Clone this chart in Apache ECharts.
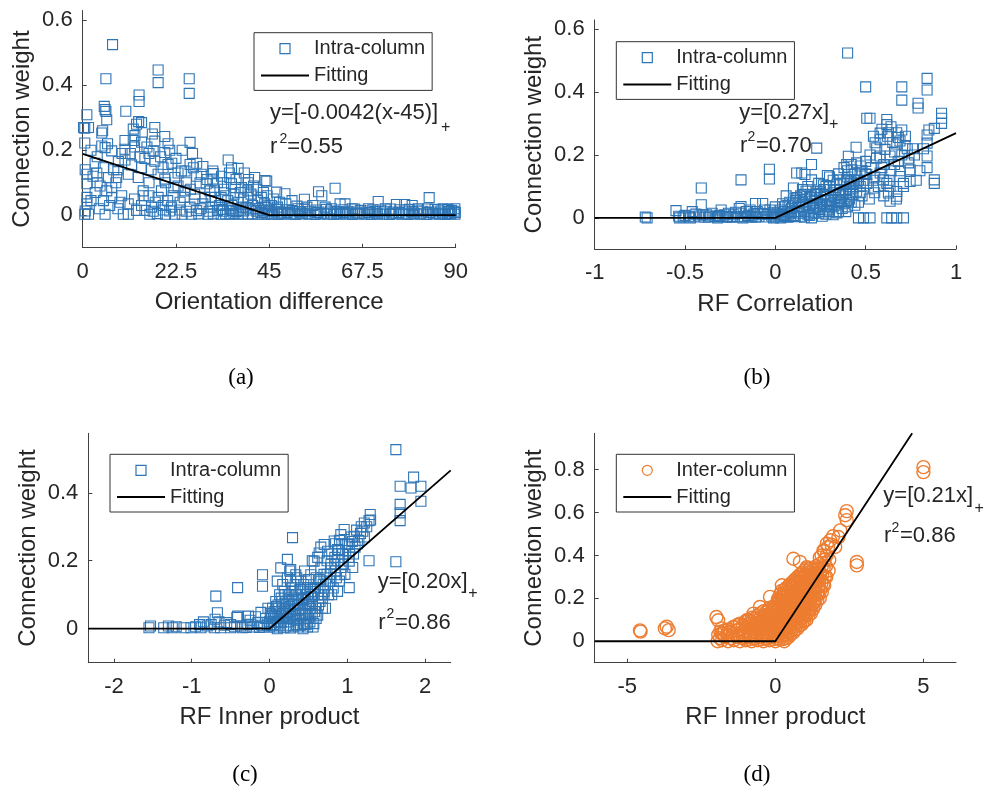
<!DOCTYPE html>
<html><head><meta charset="utf-8">
<script src="https://cdn.jsdelivr.net/npm/echarts@6/dist/echarts.min.js"></script>
<style>html,body{margin:0;padding:0;background:#fff}#c{width:985px;height:806px}</style>
</head><body><div id="c"></div>
<script>
// ---------- data ----------
const intraA = [
[7.2,0.525],[5.6,0.42],[18.2,0.447],[18.2,0.408],[25.7,0.42],[25.7,0.375],
[13.6,0.37],[13.6,0.35],[5.2,0.335],[5.6,0.319],[5.4,0.325],[1.0,0.309],[10.4,0.32],[5.8,0.294],
[0.5,0.268],[0.2,0.27],[1.4,0.27],[13.5,0.288],[14.2,0.285],[17.4,0.27],[12.2,0.265],[13.0,0.28],[4.6,0.253],[4.8,0.26],
[0.5,0.222],[10.2,0.23],[12.2,0.23],[12.6,0.245],[14.2,0.225],[17.4,0.228],[16.8,0.25],[19.8,0.242],[20.6,0.22],[25.9,0.224],
[4.6,0.213],[5.4,0.208],[7.0,0.198],[6.0,0.22],[17.0,0.198],[19.8,0.193],[10.2,0.203],[11.5,0.19],[13.8,0.18],[15.0,0.175],[16.0,0.19],
[10.2,0.17],[8.6,0.165],[17.4,0.166],[20.6,0.156],[19.4,0.146],[21.5,0.16],[25.9,0.156],[26.7,0.146],[24.7,0.136],[27.5,0.16],
[35.1,0.17],[35.9,0.146],[37.5,0.144],[35.4,0.13],[0.6,0.14],[1.0,0.126],[1.0,0.097],[3.4,0.13],[5.0,0.146],[6.2,0.116],[8.2,0.116],[2.5,0.12],
[11.0,0.126],[13.4,0.116],[14.2,0.146],[18.2,0.126],[19.8,0.111],[22.2,0.116],[23.8,0.136],[28.6,0.126],[31.4,0.136],[31.4,0.111],[29.8,0.097],[28.3,0.1],[31.5,0.128],
[4.2,0.09],[7.0,0.085],[5.8,0.075],[9.4,0.06],[7.0,0.055],[5.0,0.045],[1.0,0.055],[1.0,0.035],[3.0,0.07],[8.0,0.1],
[14.6,0.075],[14.6,0.06],[18.2,0.055],[21.8,0.06],[24.7,0.075],[23.0,0.09],[26.0,0.08],[11.0,0.035],[14.2,0.03],[16.6,0.025],[19.4,0.03],[21.4,0.025],[25.9,0.025],[20.5,0.045],[23.5,0.04],[27.0,0.05],[17.5,0.04],
[31.8,0.075],[31.0,0.055],[33.4,0.055],[35.9,0.097],[35.5,0.116],[38.3,0.085],[39.9,0.1],[39.9,0.075],[39.9,0.055],[41.5,0.116],[43.1,0.055],[43.9,0.035],[40.0,0.11],[44.0,0.107],[41.2,0.09],[43.6,0.07],[30.7,0.075],[34.0,0.08],[36.5,0.065],[37.5,0.04],[33.0,0.03],[29.0,0.035],[36.0,0.03],[38.5,0.025],[41.0,0.03],[42.5,0.02],[35.0,0.045],
[2.0,0.2],[3.5,0.18],[8.5,0.14],[9.5,0.19],[11.8,0.155],[12.5,0.21],[15.5,0.21],[16.5,0.14],[18.8,0.18],[21.0,0.2],[22.5,0.175],[23.0,0.13],[24.0,0.2],[26.5,0.19],[27.5,0.12],[29.0,0.15],[30.0,0.11],[32.5,0.1],[33.5,0.12],[34.0,0.1],[37.0,0.11],[38.0,0.07],[39.0,0.13],[42.0,0.08],[44.5,0.06],[3.0,0.16],[2.0,0.045],[4.0,0.02],[6.5,0.03],[8.5,0.02],[12.5,0.05],[13.0,0.015],[16.0,0.06],[19.0,0.075],[22.0,0.085],[25.0,0.1],[27.0,0.065],[29.5,0.055],[32.0,0.045],[34.5,0.06],[36.8,0.085],[38.8,0.05],[40.6,0.065],[42.2,0.045],[44.2,0.025],[28.5,0.02],[31.0,0.025],[33.7,0.018],[35.7,0.02],[37.7,0.015],[39.4,0.022],[41.6,0.02],[43.0,0.008],[44.8,0.016],[24.5,0.055],[20.0,0.1],[16.0,0.1],[9.0,0.04],[3.5,0.1],[7.5,0.14],
[0.5,0.003],[1.4,0.003],[5.4,0.003],[9.8,0.003],[11.0,0.003],[16.2,0.003],[22.2,0.003],[26.2,0.003],[30.2,0.003],[33.4,0.003],[35.5,0.003],[37.5,0.003],[39.9,0.003],[42.3,0.003],[43.9,0.003],[18.0,0.005],[20.0,0.003],[24.0,0.003],[28.0,0.004],[31.5,0.004],[34.5,0.004],[36.5,0.005],[38.5,0.004],[41.0,0.004],[44.5,0.004],
[0.6,0.013],[15.0,0.015],[17.0,0.012],[21.0,0.013],[25.0,0.012],[27.5,0.014],[30.5,0.012],[32.5,0.015],[34.0,0.012],[36.0,0.015],[37.0,0.011],[38.8,0.013],[40.5,0.016],[42.0,0.012],[43.5,0.015],[45.0,0.012],[23.5,0.016],[19.5,0.016],
[44.4,0.105],[46.8,0.071],[48.8,0.066],[53.5,0.049],[56.9,0.072],[57.7,0.06],[60.9,0.083],[62.1,0.035],[63.3,0.035],[71.3,0.042],[75.7,0.033],[77.7,0.033],[83.6,0.054],[51.7,0.028],[54.1,0.025],[79.5,0.03],[88.0,0.005],
[46.0,0.05],[47.5,0.04],[49.0,0.035],[50.5,0.045],[52.0,0.02],[55.5,0.03],[58.5,0.025],[60.0,0.02],[65.0,0.02],[67.0,0.015],[69.0,0.02],[73.0,0.02],[81.0,0.02],[85.0,0.018],[87.0,0.02],[89.0,0.015],[47.0,0.025],[45.5,0.03],
[45.5,0.003],[47.2,0.002],[48.6,0.004],[50.1,0.003],[51.4,0.002],[53.0,0.004],[54.6,0.003],[56.1,0.002],[57.4,0.004],[59.0,0.003],[60.6,0.002],[62.0,0.004],[63.4,0.003],[65.1,0.002],[66.5,0.004],[68.0,0.003],[69.6,0.002],[71.1,0.004],[72.4,0.003],[74.0,0.002],[75.6,0.004],[77.0,0.003],[78.5,0.002],[80.1,0.004],[81.4,0.003],[83.0,0.002],[84.6,0.004],[86.1,0.003],[87.4,0.002],[88.8,0.004],[89.8,0.003],
[46.2,0.012],[48.0,0.01],[50.6,0.013],[52.3,0.011],[55.0,0.012],[57.0,0.01],[59.8,0.013],[61.5,0.011],[64.0,0.012],[66.0,0.01],[68.8,0.013],[70.5,0.011],[73.0,0.012],[75.0,0.01],[77.8,0.013],[79.5,0.011],[82.0,0.012],[84.0,0.01],[86.5,0.013],[88.5,0.011],[89.6,0.012],
[45.8,0.007],[47.6,0.006],[49.3,0.008],[51.0,0.006],[52.7,0.007],[54.2,0.006],[56.5,0.008],[58.2,0.006],[60.0,0.007],[61.3,0.006],[63.0,0.008],[64.5,0.006],[66.2,0.007],[67.6,0.006],[69.2,0.008],[70.8,0.006],[72.7,0.007],[74.6,0.006],[76.3,0.008],[78.0,0.006],[79.8,0.007],[81.6,0.006],[83.4,0.008],[85.2,0.006],[86.8,0.007],[88.2,0.006],[89.9,0.008],
[46.8,0.018],[49.5,0.017],[53.5,0.019],[56.3,0.016],[58.8,0.018],[62.8,0.017],[65.6,0.019],[70.0,0.017],[71.8,0.016],[74.3,0.019],[76.5,0.017],[78.8,0.018],[80.7,0.016],[83.2,0.019],[85.8,0.017],[88.1,0.018],[89.8,0.02]
];
const fitA = [[0,0.189],[45,0],[90,0]];

const intraB = [
[-0.72,0.003],[-0.71,0.0],[-0.55,0.023],[-0.535,0.005],[-0.51,0.003],[-0.48,0.005],[-0.41,0.095],[-0.41,0.042],[-0.35,0.015],[-0.38,0.01],[-0.33,0.004],[-0.29,0.004],[-0.25,0.004],[-0.21,0.004],[-0.19,0.121],[-0.19,0.036],[-0.19,0.015],[-0.11,0.046],[-0.14,0.025],[-0.07,0.046],[-0.1,0.02],[-0.033,0.155],[-0.033,0.124],[-0.03,0.025],[-0.005,0.01],[0.0,0.035],
[-0.45,0.003],[-0.42,0.006],[-0.37,0.003],[-0.31,0.008],[-0.27,0.002],[-0.23,0.01],[-0.17,0.004],[-0.15,0.008],[-0.13,0.003],[-0.09,0.005],[-0.07,0.012],[-0.05,0.003],[-0.02,0.006],[-0.16,0.02],[-0.12,0.012],[-0.26,0.015],[-0.06,0.025],[-0.4,0.01],
[-0.53,0.0],[-0.5,0.008],[-0.47,0.0],[-0.44,0.012],[-0.39,0.002],[-0.36,0.006],[-0.32,0.0],[-0.28,0.01],[-0.24,0.002],[-0.22,0.018],[-0.18,0.0],[-0.14,0.004],[-0.11,0.002],[-0.08,0.015],[-0.04,0.012],[-0.01,0.0],[-0.3,0.025],[-0.46,0.02],[-0.2,0.03],
[0.40,0.525],[0.50,0.417],[0.70,0.417],[0.70,0.375],[0.84,0.444],[0.84,0.407],[0.79,0.365],[0.79,0.35],[0.92,0.333],[0.92,0.317],[0.92,0.301],[0.88,0.285],[0.84,0.264],[0.84,0.238],[0.506,0.317],[0.524,0.317],[0.617,0.313],[0.617,0.297],[0.59,0.282],[0.626,0.271],[0.672,0.271],[0.681,0.256],[0.69,0.245],[0.718,0.23],[0.672,0.235],[0.543,0.26],[0.58,0.249],[0.552,0.239],[0.561,0.223],[0.607,0.218],[0.635,0.197],[0.58,0.197],[0.524,0.2],[0.447,0.225],[0.404,0.196],[0.395,0.17],[0.45,0.175],[0.423,0.153],[0.469,0.143],[0.506,0.138],[0.229,0.222],[0.2,0.17],[0.118,0.143],[0.146,0.143],[0.164,0.138],[0.288,0.135],[0.2,0.121],[0.266,0.105],[0.358,0.121],[0.395,0.121],[0.413,0.1],[0.506,0.11],[0.543,0.095],[0.58,0.143],[0.598,0.121],[0.617,0.11],[0.635,0.1],[0.672,0.084],[0.709,0.11],[0.746,0.116],[0.709,0.1],[0.69,0.132],[0.84,0.197],[0.84,0.16],[0.88,0.121],[0.88,0.11],[0.746,0.153],[0.737,0.175],[0.626,0.079],[0.635,0.053],[0.672,0.069],
[0.46,0.0],[0.488,0.0],[0.524,0.0],[0.617,0.0],[0.644,0.0],[0.672,0.0],[0.709,0.0],
[0.358,0.05],[0.395,0.055],[0.284,0.038],[0.247,0.027],[0.34,0.016],
[0.02,0.005],[0.04,0.01],[0.05,0.02],[0.06,0.004],[0.08,0.015],[0.09,0.03],[0.1,0.008],[0.11,0.045],[0.12,0.02],[0.13,0.035],[0.14,0.005],[0.15,0.05],[0.16,0.025],[0.17,0.06],[0.18,0.012],[0.19,0.04],[0.2,0.07],[0.21,0.03],[0.22,0.055],[0.23,0.085],[0.24,0.015],[0.25,0.065],[0.26,0.045],[0.27,0.09],[0.28,0.07],[0.29,0.025],[0.3,0.1],[0.31,0.06],[0.32,0.08],[0.33,0.04],[0.34,0.105],[0.35,0.075],[0.36,0.09],[0.37,0.03],[0.38,0.11],[0.39,0.08],[0.4,0.13],[0.41,0.06],[0.42,0.115],[0.43,0.095],[0.44,0.14],[0.45,0.085],[0.46,0.12],[0.47,0.1],[0.48,0.15],[0.2,0.0],[0.26,0.005],[0.32,0.01],[0.28,0.012],[0.35,0.02],[0.4,0.035],[0.44,0.04],[0.12,0.065],[0.08,0.05],[0.05,0.035],[0.06,0.07],[0.1,0.095],[0.15,0.09],[0.18,0.1],[0.24,0.11],[0.3,0.13],[0.35,0.14],[0.38,0.16],[0.42,0.17],[0.5,0.18],[0.53,0.16],[0.55,0.13],[0.56,0.19],[0.6,0.17],[0.64,0.15],[0.66,0.21],[0.68,0.18],[0.7,0.2],[0.72,0.26],[0.65,0.24],[0.62,0.26],[0.58,0.27],[0.64,0.29],[0.7,0.28],[0.76,0.22],[0.74,0.19],[0.78,0.12],[0.67,0.06],[0.6,0.07],[0.55,0.08],[0.52,0.06],[0.48,0.07],[0.46,0.05],
[0.01,0.015],[0.03,0.025],[0.07,0.04],[0.11,0.055],[0.14,0.07],[0.17,0.085],[0.21,0.045],[0.23,0.06],[0.27,0.075],[0.3,0.045],[0.33,0.065],[0.36,0.055],[0.39,0.09],[0.41,0.075],[0.43,0.11],[0.16,0.002],[0.22,0.018],[0.3,0.02],[0.38,0.045],[0.42,0.05],
[0.0,0.003],[0.03,0.0],[0.05,0.008],[0.07,0.002],[0.09,0.018],[0.11,0.004],[0.13,0.015],[0.15,0.035],[0.17,0.02],[0.19,0.008],[0.21,0.015],[0.23,0.035],[0.25,0.04],[0.27,0.02],[0.29,0.055],[0.31,0.035],[0.33,0.09],[0.35,0.055],[0.37,0.07],[0.39,0.02],[0.41,0.1],[0.43,0.075],[0.45,0.11],[0.47,0.08],[0.49,0.12],[0.25,0.085],[0.22,0.075],[0.19,0.065],[0.16,0.075],[0.13,0.05],[0.1,0.06],[0.07,0.02],[0.04,0.045],[0.03,0.01],[-0.01,0.018],[0.28,0.1],[0.32,0.12],[0.36,0.11],[0.4,0.15],[0.44,0.12],[0.47,0.165],[0.5,0.14],[0.54,0.12],[0.57,0.1],[0.59,0.16],[0.63,0.12],[0.66,0.17],[0.69,0.15],[0.73,0.22],[0.77,0.2],[0.8,0.15],[0.85,0.28],[0.82,0.22]
];
const fitB = [[-1,0],[0,0],[1,0.27]];

const intraC = [
[1.625,0.527],[1.853,0.446],[1.82,0.414],[1.947,0.419],[1.947,0.375],[1.68,0.419],[1.68,0.366],[1.68,0.341],[1.68,0.318],
[1.295,0.336],[1.28,0.318],[1.22,0.311],[1.2,0.287],[1.089,0.272],[1.068,0.257],
[0.96,0.292],[0.917,0.277],[1.025,0.248],[0.832,0.258],[0.875,0.233],[0.746,0.228],[0.639,0.223],[0.704,0.248],
[0.296,0.268],[1.28,0.2],[1.625,0.197],
[1.025,0.199],[1.025,0.121],[0.917,0.159],[0.789,0.179],[0.66,0.179],[0.574,0.199],[0.531,0.159],[0.66,0.14],[0.789,0.14],[0.875,0.11],[0.703,0.11],[0.574,0.101],[0.488,0.121],[0.402,0.14],[0.338,0.159],[0.23,0.15],[0.273,0.174],[0.145,0.179],[0.23,0.204],[-0.09,0.159],[-0.09,0.125],[-0.41,0.121],[-0.69,0.096],[-0.67,0.047],[0.1,0.14],[0.26,0.17],[-0.41,0.037],[-0.11,0.048],[-0.27,0.037],[-0.42,0.033],
[-1.55,0.003],[-1.53,0.008],[-1.36,0.003],[-1.25,0.003],[-1.01,0.003],[-0.88,0.003],[-0.8,0.008],[-0.71,0.003],[-0.63,0.003],[-0.5,0.003],[-0.37,0.008],[-0.24,0.013],[-0.15,0.018],[-0.95,0.006],[-0.75,0.012],[-0.58,0.01],[-0.45,0.006],[-0.3,0.004],[-0.2,0.005],[-0.1,0.01],[-0.05,0.03],[-0.7,0.028],[-0.65,0.02],[-0.55,0.018],[-0.85,0.02],[-0.18,0.035],[-0.02,0.06],[-0.25,0.025],[-1.2,0.006],
[-0.08,0.005],[-0.13,0.004],[-0.35,0.003],[-0.28,0.012],[-0.5,0.012],[-0.9,0.012],[-1.1,0.003],[-1.3,0.008],
[0.02,0.01],[0.05,0.03],[0.06,0.005],[0.08,0.05],[0.1,0.02],[0.11,0.07],[0.12,0.04],[0.14,0.01],[0.15,0.09],[0.16,0.055],[0.18,0.03],[0.19,0.11],[0.2,0.075],[0.21,0.005],[0.22,0.045],[0.24,0.1],[0.25,0.02],[0.26,0.065],[0.28,0.12],[0.29,0.04],[0.3,0.085],[0.31,0.008],[0.32,0.06],[0.33,0.13],[0.34,0.1],[0.35,0.025],[0.36,0.075],[0.38,0.045],[0.39,0.115],[0.4,0.01],[0.41,0.09],[0.42,0.06],[0.44,0.13],[0.45,0.03],[0.46,0.1],[0.48,0.07],[0.49,0.005],[0.5,0.145],[0.52,0.04],[0.53,0.11],[0.55,0.08],[0.56,0.12],[0.58,0.05],[0.6,0.15],[0.62,0.1],[0.63,0.07],[0.65,0.12],[0.68,0.09],[0.7,0.16],[0.72,0.13],[0.74,0.2],[0.76,0.1],[0.78,0.16],[0.8,0.22],[0.82,0.12],[0.84,0.19],[0.86,0.15],[0.88,0.2],[0.9,0.26],[0.92,0.18],[0.94,0.22],[0.97,0.16],[1.0,0.25],[1.02,0.21],[1.05,0.27],[1.07,0.18],[1.1,0.24],[1.12,0.29],[1.15,0.26],[1.18,0.3],[1.22,0.27],[1.25,0.3],[1.3,0.32],[0.08,0.08],[0.13,0.1],[0.17,0.13],[0.04,0.06],[0.0,0.02],[0.01,0.045],[-0.03,0.01],[0.27,0.14],[0.35,0.15],[0.45,0.17],[0.55,0.2],[0.62,0.21],[0.66,0.24],[0.85,0.25],[0.72,0.06],[0.6,0.03],[0.52,0.02],[0.43,0.0],[0.37,0.005],[0.27,0.002],[0.18,0.003],[0.1,0.0],[0.47,0.012],[0.57,0.015],
[0.03,0.035],[0.07,0.02],[0.13,0.03],[0.17,0.045],[0.23,0.03],[0.27,0.05],[0.33,0.04],[0.37,0.055],[0.43,0.045],[0.47,0.04],[0.53,0.06],[0.09,0.065],[0.21,0.06],[0.31,0.07],[0.39,0.07],[0.5,0.09],
[0.0,0.005],[0.05,0.012],[0.1,0.03],[0.15,0.018],[0.2,0.035],[0.25,0.01],[0.3,0.028],[0.35,0.012],[0.4,0.03],[0.45,0.015],[0.5,0.03],[0.55,0.045],[0.6,0.06],[0.65,0.08],[0.7,0.1],[0.75,0.13],[0.8,0.1],[0.85,0.17],[0.9,0.14],[0.95,0.19],[0.02,0.04],[0.06,0.05],[0.12,0.06],[0.16,0.08],[0.2,0.1],[0.25,0.085],[0.3,0.11],[0.35,0.1],[0.4,0.12],[0.44,0.085],[0.49,0.105],[0.54,0.095],[0.59,0.12],[0.64,0.145],[0.69,0.13],[0.74,0.16],[0.79,0.19],[0.84,0.21],[0.89,0.23],[0.93,0.25],[0.98,0.23],[1.03,0.23],[1.08,0.22],[1.13,0.25],[1.17,0.28],[0.56,0.005],[0.62,0.04],[0.68,0.06],[0.51,0.07],[0.46,0.055]
];
const fitC = [[-2.33,0],[0,0],[2.33,0.466]];

const interD = [
[5.0,0.812],[5.0,0.789],[2.41,0.607],[2.36,0.588],[2.41,0.565],[2.19,0.517],[2.13,0.486],[1.85,0.471],[1.74,0.455],[2.02,0.44],[1.63,0.424],[2.75,0.37],[2.75,0.354],
[0.61,0.385],[0.83,0.37],[1.06,0.346],[1.29,0.331],[1.51,0.315],[1.4,0.284],[1.63,0.268],[1.29,0.253],[1.06,0.284],[0.83,0.3],
[0.22,0.261],[-0.18,0.207],[-0.52,0.16],[-0.74,0.129],[-0.97,0.098],[-1.19,0.082],[-1.42,0.067],[-1.59,0.044],[-1.82,0.036],[-1.93,0.098],[-1.99,0.113],
[-4.57,0.051],[-4.55,0.045],[-3.73,0.06],[-3.67,0.068],[-3.6,0.052],
[-1.95,0.0],[-1.93,0.03],[-1.8,0.005],[-1.78,0.035],[-1.82,0.06],[-1.6,0.0],[-1.62,0.03],[-1.58,0.055],[-1.4,0.005],[-1.42,0.035],[-1.38,0.065],
[-1.2,0.0],[-1.22,0.03],[-1.18,0.06],[-1.21,0.08],[-1.0,0.005],[-1.02,0.035],[-0.98,0.065],[-1.01,0.09],
[-0.8,0.0],[-0.82,0.03],[-0.78,0.06],[-0.81,0.09],[-0.79,0.11],[-0.6,0.005],[-0.62,0.035],[-0.58,0.065],[-0.61,0.095],[-0.59,0.12],
[-0.4,0.0],[-0.42,0.03],[-0.38,0.06],[-0.41,0.09],[-0.39,0.12],[-0.4,0.14],[-0.2,0.005],[-0.22,0.035],[-0.18,0.065],[-0.21,0.095],[-0.19,0.125],[-0.2,0.155],
[0.0,0.0],[-0.02,0.03],[0.02,0.06],[-0.01,0.09],[0.01,0.12],[0.0,0.15],[0.02,0.17],
[0.15,0.01],[0.13,0.04],[0.17,0.07],[0.14,0.1],[0.16,0.13],[0.15,0.16],[0.13,0.19],[0.17,0.22],
[0.3,0.0],[0.32,0.03],[0.28,0.06],[0.31,0.09],[0.29,0.12],[0.3,0.15],[0.32,0.18],[0.28,0.21],[0.31,0.24],
[0.45,0.02],[0.47,0.05],[0.43,0.08],[0.46,0.11],[0.44,0.14],[0.45,0.17],[0.47,0.2],[0.43,0.23],[0.46,0.26],
[0.6,0.04],[0.62,0.07],[0.58,0.1],[0.61,0.13],[0.59,0.16],[0.6,0.19],[0.62,0.22],[0.58,0.25],[0.61,0.28],
[0.75,0.06],[0.77,0.09],[0.73,0.12],[0.76,0.15],[0.74,0.18],[0.75,0.21],[0.77,0.24],[0.73,0.27],[0.76,0.3],
[0.9,0.08],[0.92,0.11],[0.88,0.14],[0.91,0.17],[0.89,0.2],[0.9,0.23],[0.92,0.26],[0.88,0.29],[0.91,0.32],
[1.05,0.1],[1.07,0.13],[1.03,0.16],[1.06,0.19],[1.04,0.22],[1.05,0.25],[1.07,0.28],[1.03,0.31],[1.06,0.34],
[1.2,0.13],[1.22,0.16],[1.18,0.19],[1.21,0.22],[1.19,0.25],[1.2,0.28],[1.22,0.31],[1.18,0.34],
[1.35,0.17],[1.37,0.2],[1.33,0.23],[1.36,0.26],[1.34,0.29],[1.35,0.32],[1.37,0.35],
[1.5,0.2],[1.52,0.24],[1.48,0.28],[1.51,0.32],[1.49,0.36],[1.5,0.39],
[1.65,0.26],[1.67,0.3],[1.63,0.34],[1.66,0.38],[1.64,0.42],[1.8,0.33],[1.82,0.38],[1.78,0.44],
[-1.87,0.015],[-1.86,0.045],[-1.7,0.02],[-1.71,0.05],[-1.5,0.015],[-1.51,0.045],[-1.3,0.02],[-1.31,0.05],[-1.29,0.075],[-1.1,0.015],[-1.11,0.045],[-1.09,0.075],[-0.9,0.02],[-0.91,0.05],[-0.89,0.08],[-0.9,0.1],[-0.7,0.015],[-0.71,0.045],[-0.69,0.075],[-0.7,0.105],[-0.5,0.02],[-0.51,0.05],[-0.49,0.08],[-0.5,0.11],[-0.51,0.13],[-0.3,0.015],[-0.31,0.045],[-0.29,0.075],[-0.3,0.105],[-0.31,0.135],[-0.1,0.02],[-0.11,0.05],[-0.09,0.08],[-0.1,0.11],[-0.11,0.14],[-0.09,0.16],
[0.08,0.015],[0.07,0.045],[0.09,0.075],[0.08,0.105],[0.07,0.135],[0.09,0.165],[0.08,0.19],
[0.22,0.025],[0.21,0.055],[0.23,0.085],[0.22,0.115],[0.21,0.145],[0.23,0.175],[0.22,0.205],[0.21,0.235],
[0.37,0.015],[0.36,0.045],[0.38,0.075],[0.37,0.105],[0.36,0.135],[0.38,0.165],[0.37,0.195],[0.36,0.225],[0.38,0.25],
[0.52,0.035],[0.51,0.065],[0.53,0.095],[0.52,0.125],[0.51,0.155],[0.53,0.185],[0.52,0.215],[0.51,0.245],[0.53,0.27],
[0.67,0.055],[0.66,0.085],[0.68,0.115],[0.67,0.145],[0.66,0.175],[0.68,0.205],[0.67,0.235],[0.66,0.265],[0.68,0.29],
[0.82,0.075],[0.81,0.105],[0.83,0.135],[0.82,0.165],[0.81,0.195],[0.83,0.225],[0.82,0.255],[0.81,0.285],[0.83,0.31],
[0.97,0.095],[0.96,0.125],[0.98,0.155],[0.97,0.185],[0.96,0.215],[0.98,0.245],[0.97,0.275],[0.96,0.305],[0.98,0.33],
[1.12,0.12],[1.11,0.15],[1.13,0.18],[1.12,0.21],[1.11,0.24],[1.13,0.27],[1.12,0.3],[1.11,0.33],
[1.27,0.15],[1.26,0.18],[1.28,0.21],[1.27,0.24],[1.26,0.27],[1.28,0.3],[1.27,0.33],
[1.42,0.19],[1.41,0.22],[1.43,0.25],[1.42,0.28],[1.41,0.31],[1.43,0.34],
[1.57,0.23],[1.56,0.27],[1.58,0.31],[1.57,0.35],[1.56,0.4],[1.72,0.3],[1.71,0.35],[1.73,0.4],[1.9,0.45],[1.95,0.49],
[-1.05,0.02],[-1.04,0.05],[-0.85,0.01],[-0.86,0.04],[-0.84,0.07],[-0.65,0.025],[-0.66,0.055],[-0.64,0.085],
[-0.45,0.01],[-0.46,0.04],[-0.44,0.07],[-0.45,0.1],[-0.25,0.025],[-0.26,0.055],[-0.24,0.085],[-0.25,0.115],[-0.26,0.14],
[-0.05,0.01],[-0.06,0.04],[-0.04,0.07],[-0.05,0.1],[-0.06,0.13],[-0.04,0.16],
[0.1,0.025],[0.11,0.055],[0.09,0.085],[0.1,0.115],[0.11,0.145],[0.09,0.175],[0.1,0.2],
[0.25,0.01],[0.26,0.04],[0.24,0.07],[0.25,0.1],[0.26,0.13],[0.24,0.16],[0.25,0.19],[0.26,0.22],
[0.4,0.03],[0.41,0.06],[0.39,0.09],[0.4,0.12],[0.41,0.15],[0.39,0.18],[0.4,0.21],[0.41,0.24],
[0.55,0.05],[0.56,0.08],[0.54,0.11],[0.55,0.14],[0.56,0.17],[0.54,0.2],[0.55,0.23],[0.56,0.26],
[0.7,0.07],[0.71,0.1],[0.69,0.13],[0.7,0.16],[0.71,0.19],[0.69,0.22],[0.7,0.25],[0.71,0.28],
[0.85,0.09],[0.86,0.12],[0.84,0.15],[0.85,0.18],[0.86,0.21],[0.84,0.24],[0.85,0.27],[0.86,0.3],
[1.0,0.12],[1.01,0.15],[0.99,0.18],[1.0,0.21],[1.01,0.24],[0.99,0.27],[1.0,0.3],
[1.15,0.14],[1.16,0.17],[1.14,0.2],[1.15,0.23],[1.16,0.26],[1.14,0.29],[1.15,0.32],
[1.3,0.18],[1.31,0.21],[1.29,0.24],[1.3,0.27],[1.31,0.3],[1.45,0.22],[1.46,0.26],[1.44,0.3],[1.45,0.34]
];
const fitD = [[-6.1,0],[0,0],[4.62,0.97]];

const yTicksAB = [0, 0.2, 0.4, 0.6];
const yTicksC = [0, 0.2, 0.4];
const yTicksD = [0, 0.2, 0.4, 0.6, 0.8];
const xTicksA = [0, 22.5, 45, 67.5, 90];
const xTicksB = [-1, -0.5, 0, 0.5, 1];
const xTicksC = [-2, -1, 0, 1, 2];
const xTicksD = [-5, 0, 5];

// ---------- styling ----------
const FONT = "'Liberation Sans', Arial, Helvetica, sans-serif";
const SERIF = "'Liberation Serif', 'Times New Roman', serif";
const TXT = '#262626', AX = '#404040';
const BLUE = '#2E75B6', ORANGE = '#ED7D31';
const SQUARE_ICON = 'path://M0,0H10V10H0Z';
const LINE_ICON = 'path://M0,0H48V2H0Z';

function xAx(i, min, max, ticks, name) {
  return { gridIndex: i, type: 'value', min, max, name, nameLocation: 'middle', nameGap: 43,
    nameTextStyle: { fontSize: 24, color: TXT, fontFamily: FONT },
    axisLine: { show: true, onZero: false, lineStyle: { color: AX, width: 1 } },
    axisTick: { show: true, inside: true, length: 4, customValues: ticks, lineStyle: { color: AX } },
    axisLabel: { customValues: ticks, margin: 13, fontSize: 22, color: TXT, fontFamily: FONT },
    splitLine: { show: false } };
}
function yAx(i, min, max, ticks) {
  return { gridIndex: i, type: 'value', min, max, name: 'Connection weight', nameLocation: 'middle', nameGap: 48, nameRotate: 90,
    nameTextStyle: { fontSize: 24, color: TXT, fontFamily: FONT },
    axisLine: { show: true, onZero: false, lineStyle: { color: AX, width: 1 } },
    axisTick: { show: true, inside: true, length: 4, customValues: ticks, lineStyle: { color: AX } },
    axisLabel: { customValues: ticks, margin: 10, fontSize: 22, color: TXT, fontFamily: FONT },
    splitLine: { show: false } };
}
function scat(i, name, data, symbol, size, color, bw) {
  return { type: 'scatter', name, xAxisIndex: i, yAxisIndex: i, data, symbol, symbolSize: size,
    itemStyle: { color: 'rgba(0,0,0,0)', borderColor: color, borderWidth: bw, opacity: 1 }, z: 2 };
}
function fit(i, data) {
  return { type: 'line', name: 'Fitting', xAxisIndex: i, yAxisIndex: i, data, symbol: 'none', showSymbol: false,
    lineStyle: { color: '#000', width: 1.8 }, itemStyle: { color: '#000' }, z: 5 };
}
function leg(left, top, first, icon, color) {
  return { left, top, orient: 'vertical', selectedMode: false, itemWidth: 48, itemHeight: 10, itemGap: 6.7,
    symbolKeepAspect: true,
    padding: [6, 7, 5, 7], borderColor: '#333', borderWidth: 1, backgroundColor: '#fff',
    textStyle: { fontSize: 20, color: TXT, fontFamily: FONT, lineHeight: 20 },
    data: [ { name: first, icon, itemStyle: { color: 'rgba(0,0,0,0)', borderColor: color, borderWidth: 1.2 } },
            { name: 'Fitting', icon: LINE_ICON, itemStyle: { color: '#000', borderWidth: 0 } } ] };
}
function t(x, y, text, size) {
  return { type: 'text', x, y, style: { text, fontSize: size || 22, fontFamily: FONT, fill: TXT, verticalAlign: 'middle', align: 'left' } };
}
function tc(x, y, text) {
  return { type: 'text', x, y, style: { text, fontSize: 23, fontFamily: SERIF, fill: '#000', verticalAlign: 'middle', align: 'center' } };
}

const option = {
  animation: false,
  backgroundColor: '#fff',
  grid: [
    { left: 82.7, top: 10.5, width: 373, height: 237.2 },
    { left: 594.7, top: 20, width: 361.3, height: 229.3 },
    { left: 88.3, top: 433.3, width: 362.4, height: 229.4 },
    { left: 594.7, top: 433.3, width: 361.3, height: 229.4 }
  ],
  xAxis: [
    xAx(0, 0, 90, xTicksA, 'Orientation difference'),
    xAx(1, -1, 1, xTicksB, 'RF Correlation'),
    xAx(2, -2.33, 2.33, xTicksC, 'RF Inner product'),
    xAx(3, -6.1, 6.1, xTicksD, 'RF Inner product')
  ],
  yAxis: [
    yAx(0, -0.1, 0.63, yTicksAB),
    yAx(1, -0.1, 0.63, yTicksAB),
    yAx(2, -0.1, 0.575, yTicksC),
    yAx(3, -0.1, 0.97, yTicksD)
  ],
  legend: [
    leg(254, 32.7, 'Intra-column', SQUARE_ICON, BLUE),
    leg(616.3, 41.7, 'Intra-column', SQUARE_ICON, BLUE),
    leg(110, 454.3, 'Intra-column', SQUARE_ICON, BLUE),
    leg(616.3, 454.3, 'Inter-column', 'circle', ORANGE)
  ],
  series: [
    scat(0, 'Intra-column', intraA, 'rect', 10, BLUE, 1.1), fit(0, fitA),
    scat(1, 'Intra-column', intraB, 'rect', 10, BLUE, 1.1), fit(1, fitB),
    scat(2, 'Intra-column', intraC, 'rect', 10, BLUE, 1.1), fit(2, fitC),
    scat(3, 'Inter-column', interD, 'circle', 13, ORANGE, 1.4), fit(3, fitD)
  ],
  graphic: [
    t(270, 113, 'y=[-0.0042(x-45)]'), t(441, 128, '+', 16), t(270, 147, 'r'), t(279.5, 139, '2', 14), t(287.3, 147, '=0.55'),
    t(739.3, 113, 'y=[0.27x]'), t(829, 125, '+', 16), t(740, 146, 'r'), t(747.5, 137, '2', 14), t(756, 146, '=0.70'),
    t(377.7, 582.3, 'y=[0.20x]'), t(468.3, 594, '+', 16), t(378.3, 623.3, 'r'), t(386.5, 614.3, '2', 14), t(395, 623.3, '=0.86'),
    t(883.3, 496, 'y=[0.21x]'), t(974.5, 508.3, '+', 16), t(884, 536, 'r'), t(891.5, 528, '2', 14), t(900, 536, '=0.86'),
    tc(241, 378, '(a)'), tc(757, 378, '(b)'), tc(245, 775, '(c)'), tc(757, 775, '(d)')
  ]
};
echarts.init(document.getElementById('c')).setOption(option);
</script>
</body></html>
